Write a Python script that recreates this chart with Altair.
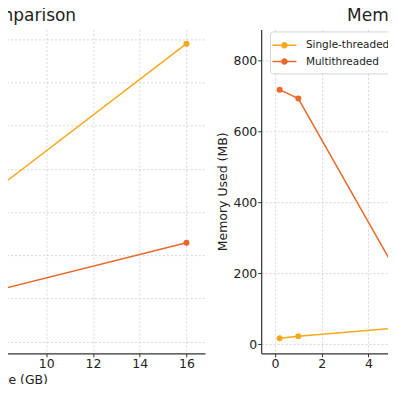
import altair as alt
import pandas as pd

sizes = [0.2, 1, 5, 16]
series = ["Single-threaded", "Multithreaded"]
time_single = [2.0, 9.5, 47.0, 138.0]
time_multi = [1.4, 3.5, 16.0, 45.8]
mem_single = [17.0, 22.5, 45.0, 140.0]
mem_multi = [718.0, 693.0, 228.0, 846.0]
x_ticks = [0, 2, 4, 6, 8, 10, 12, 14, 16]
time_ticks = [0, 20, 40, 60, 80, 100, 120, 140]
mem_ticks = [0, 200, 400, 600, 800]
colors = ["#F5A81C", "#E8692A"]

rows = []
for i, s in enumerate(sizes):
    rows.append({"size": s, "series": series[0], "time": time_single[i], "memory": mem_single[i]})
    rows.append({"size": s, "series": series[1], "time": time_multi[i], "memory": mem_multi[i]})
df = pd.DataFrame(rows)

FONT = "DejaVu Sans"
TXT = "#222222"
W, H = 406.7, 324.3

xscale = alt.Scale(domain=[-0.59, 16.79], nice=False, zero=False)
x_enc = alt.X("size:Q", scale=xscale,
              axis=alt.Axis(values=x_ticks, title="Data Size (GB)", format="d"))

sym = ("M-1.6,-0.1H1.6V0.1H-1.6Z "
       "M0.44,0A0.44,0.44,0,1,1,-0.44,0A0.44,0.44,0,1,1,0.44,0Z")

cscale = alt.Scale(domain=series, range=colors)

# left panel (execution time)
yl = alt.Y("time:Q", scale=alt.Scale(domain=[-5.4, 144.6], nice=False, zero=False),
           axis=alt.Axis(values=time_ticks, labels=False, ticks=False, domain=False, title=None))
cl = alt.Color("series:N", scale=cscale, sort=series, legend=None)
base_l = alt.Chart(df).encode(x=x_enc, y=yl, color=cl, order="size:Q")
left = alt.layer(
    base_l.mark_line(strokeWidth=1.5, clip=True),
    base_l.mark_point(filled=True, size=36, opacity=1, clip=True),
).properties(width=W, height=H, title=alt.TitleParams("Time Comparison"))

# right panel (memory)
yr = alt.Y("memory:Q", scale=alt.Scale(domain=[-25.4, 888], nice=False, zero=False),
           axis=alt.Axis(values=mem_ticks, title="Memory Used (MB)", format="d"))
legend = alt.Legend(title=None, orient="none", legendX=8.8, legendY=2,
                    symbolType=sym, symbolSize=225, symbolStrokeWidth=0,
                    symbolOffset=0.7, padding=6.3, labelFontSize=10.5, labelOffset=14,
                    labelFont=FONT, labelColor=TXT, fillColor="white",
                    strokeColor="#d6d6d6", cornerRadius=3, rowPadding=3.4,
                    symbolOpacity=1)
cr = alt.Color("series:N", scale=cscale, sort=series, legend=legend)
base_r = alt.Chart(df).encode(x=x_enc, y=yr, color=cr, order="size:Q")
right = alt.layer(
    base_r.mark_line(strokeWidth=1.5, clip=True),
    base_r.mark_point(filled=True, size=36, opacity=1, clip=True),
).properties(width=W, height=H, title=alt.TitleParams("Memory Usage Comparison"))

chart = alt.hconcat(left, right, spacing=11).resolve_scale(
    color="independent").resolve_legend(color="independent").properties(
    padding={"left": -209.5, "top": -1.8, "right": -280, "bottom": -3}
).configure_view(stroke=None).configure_axis(
    labelFont=FONT, labelFontSize=12.5, labelColor=TXT,
    titleFont=FONT, titleFontSize=12.5, titleColor=TXT, titleFontWeight="normal",
    domainColor="#333333", domainWidth=1.2, tickColor="#333333", tickSize=3.5,
    tickWidth=1, labelPadding=0.9, titlePadding=3.5,
    gridColor="#cccccc", gridDash=[2, 2], gridWidth=0.8,
).configure_title(
    font=FONT, fontSize=17, fontWeight="normal", color=TXT, anchor="middle",
    offset=4.6, baseline="alphabetic"
)

chart.save("out.html", embed_options={"renderer": "svg", "actions": False})
